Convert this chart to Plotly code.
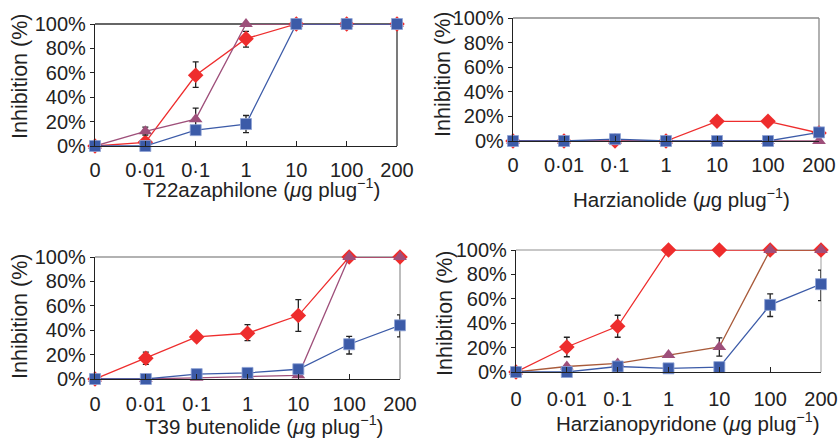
import plotly.graph_objects as go

categories = ["0", "0·01", "0·1", "1", "10", "100", "200"]
y_ticks = [0, 20, 40, 60, 80, 100]
y_tick_labels = ["0%", "20%", "40%", "60%", "80%", "100%"]

# Panel 1: T22azaphilone
p1_red = [0, 3, 58, 88, 100, 100, 100]
p1_red_up = [0, 0, 11, 6, 0, 0, 0]
p1_red_dn = [0, 0, 10, 7, 0, 0, 0]
p1_tri = [0, 12, 22, 100, 100, 100, 100]
p1_tri_up = [0, 3.5, 9, 0, 0, 0, 0]
p1_tri_dn = [0, 3, 9, 0, 0, 0, 0]
p1_blue = [0, 0, 13, 18, 100, 100, 100]
p1_blue_up = [0, 0, 0, 7, 0, 0, 0]
p1_blue_dn = [0, 0, 0, 7, 0, 0, 0]

# Panel 2: Harzianolide
p2_red = [0, 0, 0, 0, 16, 16, 6.5]
p2_tri = [0, 0, 0, 0, 0, 0, 0]
p2_blue = [0, 0, 1.5, 0, 0, 0, 7]

# Panel 3: T39 butenolide
p3_red = [0, 17, 34.5, 37.5, 52, 100, 100]
p3_red_up = [0, 5, 3, 7, 13, 0, 0]
p3_red_dn = [0, 5, 3, 6, 13, 0, 0]
p3_tri = [0, 0, 1, 2, 3, 100, 100]
p3_blue = [0, 0, 4, 5, 8, 28.5, 44]
p3_blue_up = [0, 0, 0, 0, 0, 6.5, 8.5]
p3_blue_dn = [0, 0, 0, 0, 0, 8, 9.5]

# Panel 4: Harzianopyridone
p4_red = [0, 20.5, 37.5, 100, 100, 100, 100]
p4_red_up = [0, 8, 9, 0, 0, 0, 0]
p4_red_dn = [0, 8, 9, 0, 0, 0, 0]
p4_tri = [0, 4.5, 7, 14, 20.5, 100, 100]
p4_tri_up = [0, 0, 0, 0, 7.5, 0, 0]
p4_tri_dn = [0, 0, 0, 0, 7.5, 0, 0]
p4_blue = [0, 0, 4.5, 3, 4, 55, 72]
p4_blue_up = [0, 0, 0, 0, 0, 9, 11.5]
p4_blue_dn = [0, 0, 0, 0, 0, 9.5, 13.5]

x_titles = ["T22azaphilone", "Harzianolide", "T39 butenolide", "Harzianopyridone"]

RED = "#EE2D2D"
TRI = "#9E4F7A"
BLUE = "#3C5BA8"
BROWN = "#A85A3A"
ERR = "#222222"

W, H = 840, 438
# panel pixel boxes (left, right, top, bottom)
boxes = [(95, 397, 24, 146), (513, 819, 18, 141), (95, 400, 257, 379), (516, 821, 250, 372)]
frame_colors = ["#333333", "#888888", "#999999", "#b5b5b5"]
ytitle_pos = [(20, 77), (443, 75), (20, 317), (445, 314)]
xtitle_pos = [(261, 188), (681, 198), (264, 425), (687, 422)]
xtick_stand = [6, 6, 7, 9]

panels = [
    (p1_red, p1_red_up, p1_red_dn, p1_tri, p1_tri_up, p1_tri_dn, p1_blue, p1_blue_up, p1_blue_dn, TRI),
    (p2_red, None, None, p2_tri, None, None, p2_blue, None, None, TRI),
    (p3_red, p3_red_up, p3_red_dn, p3_tri, None, None, p3_blue, p3_blue_up, p3_blue_dn, TRI),
    (p4_red, p4_red_up, p4_red_dn, p4_tri, p4_tri_up, p4_tri_dn, p4_blue, p4_blue_up, p4_blue_dn, BROWN),
]

fig = go.Figure()
xs = list(range(len(categories)))
FONT = "Liberation Sans, Arial, sans-serif"
FS = 20
FS_XT = 20.5
FS_YT = 21.5


def err(up, dn):
    if up is None:
        return None
    return dict(type="data", symmetric=False, array=up, arrayminus=dn,
                color=ERR, thickness=1.3, width=3)


shapes = []
annotations = []
for i, (r, ru, rd, t, tu, td, b, bu, bd, tline) in enumerate(panels):
    n = i + 1
    xa = "x" if n == 1 else f"x{n}"
    ya = "y" if n == 1 else f"y{n}"
    fig.add_trace(go.Scatter(x=xs, y=r, xaxis=xa, yaxis=ya, mode="lines+markers",
                             line=dict(color=RED, width=1.3),
                             marker=dict(symbol="diamond", size=12, color=RED),
                             error_y=err(ru, rd), cliponaxis=False, showlegend=False))
    fig.add_trace(go.Scatter(x=xs, y=t, xaxis=xa, yaxis=ya, mode="lines+markers",
                             line=dict(color=tline, width=1.3),
                             marker=dict(symbol="triangle-up", size=12, color=TRI),
                             error_y=err(tu, td), cliponaxis=False, showlegend=False))
    fig.add_trace(go.Scatter(x=xs, y=b, xaxis=xa, yaxis=ya, mode="lines+markers",
                             line=dict(color=BLUE, width=1.3),
                             marker=dict(symbol="square", size=11, color=BLUE,
                                         line=dict(color="#8FA3D6", width=0.8)),
                             error_y=err(bu, bd), cliponaxis=False, showlegend=False))

    l, rr, tp, bt = boxes[i]
    xdom = [l / W, rr / W]
    ydom = [1 - bt / H, 1 - tp / H]
    fig.layout[f"xaxis{'' if n == 1 else n}"] = dict(
        domain=xdom, range=[0, 6], anchor=ya, tickmode="array", tickvals=xs,
        ticktext=categories, automargin=False,
        ticks="inside", ticklen=5, tickcolor="#222", showline=True, linecolor="#222",
        linewidth=1.3, showgrid=False, zeroline=False, ticklabelstandoff=xtick_stand[i],
        tickfont=dict(size=FS, color="#222", family=FONT), fixedrange=True)
    fig.layout[f"yaxis{'' if n == 1 else n}"] = dict(
        domain=ydom, range=[0, 100], anchor=xa, tickmode="array", tickvals=y_ticks,
        ticktext=y_tick_labels, automargin=False,
        ticks="outside", ticklen=4, tickcolor="#222", showline=True, linecolor="#222",
        linewidth=1.3, showgrid=False, zeroline=False,
        tickfont=dict(size=FS, color="#222", family=FONT), fixedrange=True)
    # top and right frame lines
    shapes.append(dict(type="line", xref="paper", yref="paper", x0=xdom[0], x1=xdom[1],
                       y0=ydom[1], y1=ydom[1], line=dict(color=frame_colors[i], width=1.3),
                       layer="below"))
    shapes.append(dict(type="line", xref="paper", yref="paper", x0=xdom[1], x1=xdom[1],
                       y0=ydom[0], y1=ydom[1], line=dict(color=frame_colors[i], width=1.3),
                       layer="below"))
    yx, yy = ytitle_pos[i]
    annotations.append(dict(text="Inhibition (%)", xref="paper", yref="paper",
                            x=yx / W, y=1 - yy / H, xanchor="center", yanchor="middle",
                            textangle=-90, showarrow=False,
                            font=dict(size=FS_YT, color="#222", family=FONT)))
    xx, xy = xtitle_pos[i]
    annotations.append(dict(text=f"{x_titles[i]} (<i>μ</i>g plug<sup>−1</sup>)",
                            xref="paper", yref="paper", x=xx / W, y=1 - xy / H,
                            xanchor="center", yanchor="middle", showarrow=False,
                            font=dict(size=FS_XT, color="#222", family=FONT)))

fig.update_layout(width=W, height=H, margin=dict(l=0, r=0, t=0, b=0, autoexpand=False),
                  paper_bgcolor="white", plot_bgcolor="white",
                  shapes=shapes, annotations=annotations,
                  font=dict(family=FONT, color="#222"))

fig.write_html("out.html", config={"displayModeBar": False},
               post_script="document.body.style.margin='0';document.body.style.overflow='hidden';")
